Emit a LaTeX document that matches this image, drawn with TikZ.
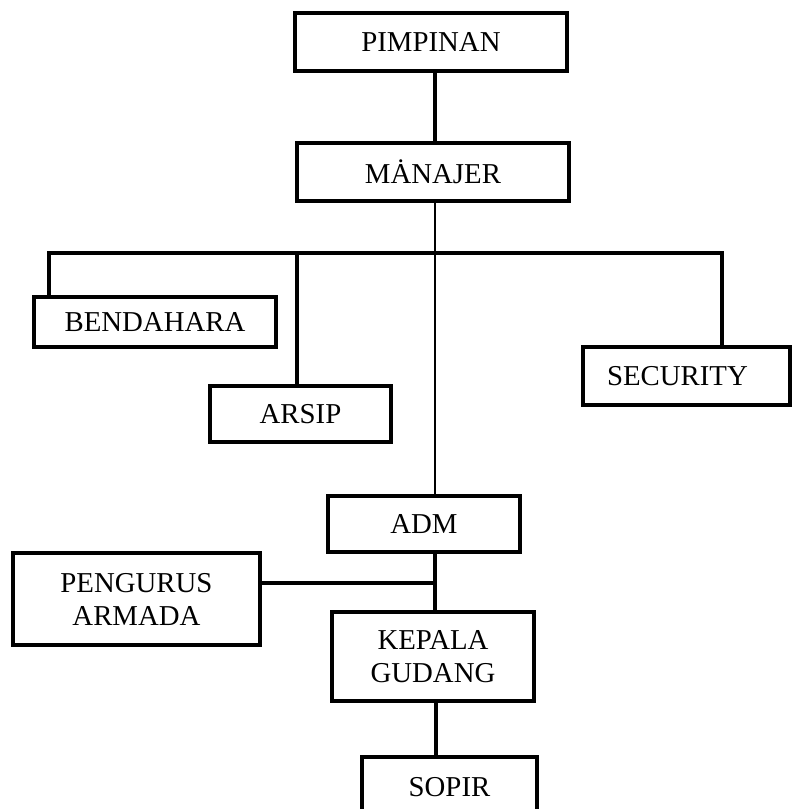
\documentclass[tikz,border=0pt]{standalone}
\usepackage{fontspec}
\setmainfont{Liberation Serif}
\begin{document}
\begin{tikzpicture}[x=1pt,y=-1pt,
  orgbox/.style={draw=black, line width=4pt, rectangle, inner sep=0pt, align=center,
    font=\fontsize{28.8}{33}\selectfont},
  conn/.style={draw=black, line width=4.2pt},
  thinconn/.style={draw=black, line width=1.8pt}]
\useasboundingbox (0,0) rectangle (792,809);
\clip (0,0) rectangle (792,809);
% boxes
\node[orgbox, minimum width=272, minimum height=58] (pim) at (431,42) {PIMPINAN};
\node[orgbox, minimum width=272, minimum height=58] (man) at (433,172) {MȦNAJER};
\node[orgbox, minimum width=242, minimum height=50] (bend) at (155,322) {BENDAHARA};
\node[orgbox, minimum width=181, minimum height=56] (arsip) at (300.5,414) {ARSIP};
\node[orgbox, minimum width=207, minimum height=58, text width=159, inner xsep=24pt, align=left] (sec) at (686.5,376) {SECURITY};
\node[orgbox, minimum width=192, minimum height=56] (adm) at (424,524) {ADM};
\node[orgbox, minimum width=247, minimum height=92] (peng) at (136.5,599) {PENGURUS\\ARMADA};
\node[orgbox, minimum width=202, minimum height=89] (kep) at (433,656.5) {KEPALA\\GUDANG};
\node[orgbox, minimum width=175, minimum height=60] (sopir) at (449.5,787) {SOPIR};
% junction coordinates
\coordinate (spine) at (435,253);
\coordinate (bx) at (49,253);
\coordinate (ax) at (297,253);
\coordinate (sx) at (722,253);
\coordinate (pj) at (435,583);
\coordinate (kx) at (436,730);
% connectors
\draw[conn] (pim.south -| spine) -- (man.north -| spine);
\draw[thinconn] (man.south -| spine) -- (adm.north -| spine);
\draw[conn, line join=miter] (bend.north -| bx) -- (bx) -- (sx) -- (sec.north -| sx);
\draw[conn] (ax) -- (arsip.north -| ax);
\draw[conn] (adm.south -| spine) -- (kep.north -| spine);
\draw[conn] (peng.east |- pj) -- (pj);
\draw[conn] (kep.south -| kx) -- (sopir.north -| kx);
\end{tikzpicture}
\end{document}
